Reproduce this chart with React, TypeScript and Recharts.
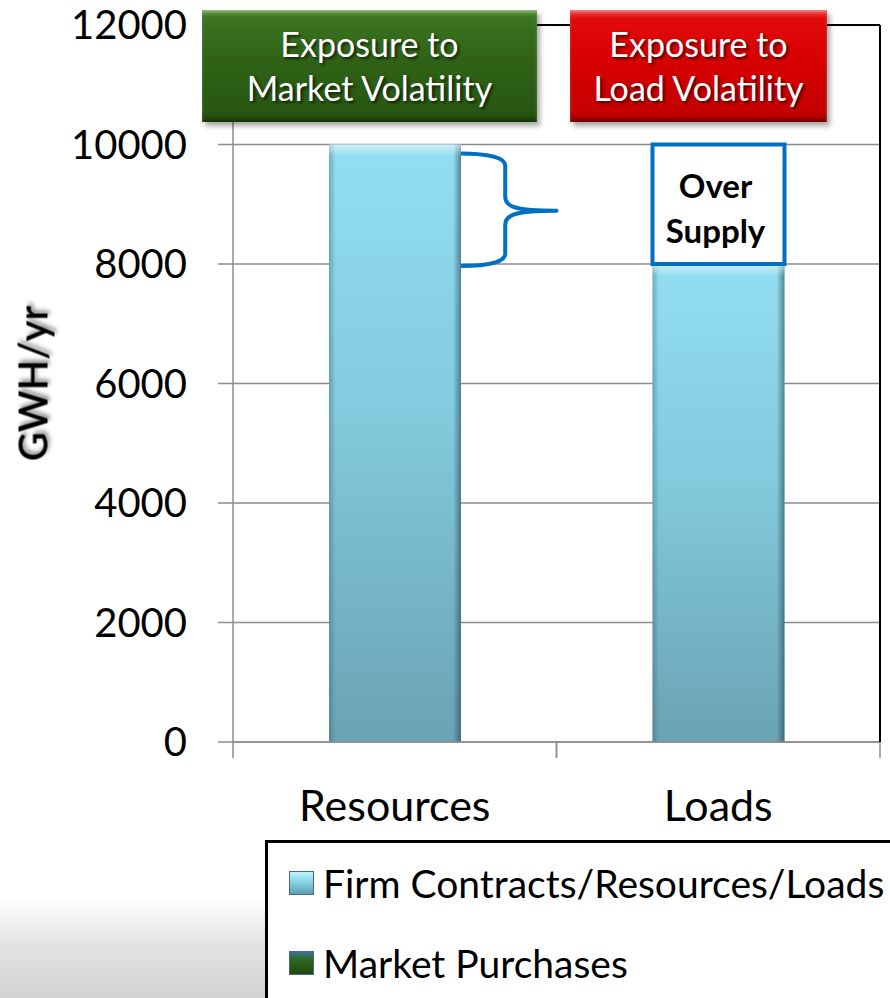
import React from "react";
import {
  BarChart,
  Bar,
  XAxis,
  YAxis,
  CartesianGrid,
  Legend,
  LabelList,
  ReferenceArea,
  ReferenceLine,
} from "recharts";

const categories = ["Resources", "Loads"];
const firmValues = [10000, 8000];
const marketValues = [0, 0];
const overSupplyValues = [0, 2000];
const yTicks = [0, 2000, 4000, 6000, 8000, 10000, 12000];
const marketBoxLines = ["Exposure to", "Market Volatility"];
const loadBoxLines = ["Exposure to", "Load Volatility"];

const data = categories.map((name, i) => ({
  name,
  firm: firmValues[i],
  market: marketValues[i],
  over: overSupplyValues[i],
}));

const FONT = 'Lato, "Open Sans", sans-serif';
const BAR_SIZE = 132;
const BLUE = "#0070c0";

function FirmBar(props: any) {
  const { x, y, width, height } = props;
  if (!height || height <= 0) return null;
  return (
    <g>
      <rect x={x} y={y} width={width} height={height} fill="url(#firmFill)" />
      <rect x={x} y={y} width={width} height={height} fill="url(#firmEdge)" />
      <rect x={x} y={y} width={width} height={Math.min(12, height)} fill="url(#firmTop)" />
    </g>
  );
}

function MarketBar(props: any) {
  const { x, y, width, height } = props;
  if (!height || height <= 0) return null;
  return <rect x={x} y={y} width={width} height={height} fill="#2f5f1a" />;
}

function OverLabel(props: any) {
  const { x, y, width, height, value } = props;
  if (!value) return null;
  const cx = x + width / 2;
  const cy = y + height / 2;
  return (
    <text
      textAnchor="middle"
      dominantBaseline="central"
      fontFamily={FONT}
      fontWeight={700}
      fontSize={33}
      fill="#000"
    >
      <tspan x={cx - 3} y={cy - 19}>Over</tspan>
      <tspan x={cx - 3} y={cy + 26}>Supply</tspan>
    </text>
  );
}

function CategoryTick(props: any) {
  const { x, y, payload, width, visibleTicksCount } = props;
  const half = width / visibleTicksCount / 2;
  return (
    <g>
      <line x1={x - half} x2={x - half} y1={y} y2={y + 16} stroke="#8c8c8c" strokeWidth={1.5} />
      <line x1={x + half} x2={x + half} y1={y} y2={y + 16} stroke="#8c8c8c" strokeWidth={1.5} />
      <text
        x={x}
        y={y + 62}
        textAnchor="middle"
        dominantBaseline="central"
        fontFamily={FONT}
        fontSize={43}
        fill="#000"
      >
        {payload.value}
      </text>
    </g>
  );
}

function Brace(props: any) {
  const { x, y, width, height } = props;
  const left = x + width / 2 + BAR_SIZE / 2 - 1;
  const tip = x + width;
  const spine = left + (tip - left) * 0.47;
  const top = y + 9;
  const bottom = y + height + 2;
  const mid = (top + bottom) / 2 + 1;
  const d = [
    `M ${left} ${top}`,
    `C ${left + 20} ${top} ${spine} ${top + 2} ${spine} ${top + 12}`,
    `L ${spine} ${mid - 14}`,
    `C ${spine} ${mid - 4} ${spine + 10} ${mid} ${tip} ${mid}`,
    `M ${tip} ${mid}`,
    `C ${spine + 10} ${mid} ${spine} ${mid + 4} ${spine} ${mid + 14}`,
    `L ${spine} ${bottom - 12}`,
    `C ${spine} ${bottom - 2} ${left + 20} ${bottom} ${left} ${bottom}`,
  ].join(" ");
  return <path d={d} fill="none" stroke={BLUE} strokeWidth={4} strokeLinecap="round" />;
}

const swatchBg: Record<string, string> = {
  firm: "linear-gradient(to bottom, #c4f1fb 0%, #8fdcef 35%, #5e9fb2 100%)",
  market: "linear-gradient(to bottom, #3d6fa0 0%, #2f6a24 30%, #1f4a10 100%)",
};

function LegendContent(props: any) {
  const items = (props.payload || []).filter((p: any) => p.type !== "none");
  return (
    <div>
      {items.map((item: any) => (
        <div key={item.value} style={{ display: "flex", alignItems: "center", height: 80 }}>
          <span
            style={{
              display: "inline-block",
              width: 25,
              height: 24,
              marginLeft: 21,
              marginRight: 9,
              background: swatchBg[item.dataKey],
              border: "1px solid #4a6a74",
              boxSizing: "border-box",
            }}
          />
          <span style={{ fontFamily: FONT, fontSize: 39, color: "#000", whiteSpace: "nowrap" }}>
            {item.value}
          </span>
        </div>
      ))}
    </div>
  );
}

function ExposureBox({ lines, left, width, bg }: { lines: string[]; left: number; width: number; bg: string }) {
  return (
    <div
      style={{
        position: "absolute",
        left,
        top: 10,
        width,
        height: 112,
        background: bg,
        boxShadow: "3px 4px 5px rgba(0,0,0,0.35), inset 0 2px 3px rgba(255,255,255,0.35), inset 0 -3px 3px rgba(0,0,0,0.25)",
        color: "#fff",
        fontFamily: FONT,
        fontSize: 34,
        lineHeight: "44px",
        textAlign: "center",
        textShadow: "2px 2px 3px rgba(0,0,0,0.65)",
        display: "flex",
        flexDirection: "column",
        justifyContent: "center",
        zIndex: 5,
      }}
    >
      {lines.map((l) => (
        <div key={l}>{l}</div>
      ))}
    </div>
  );
}

export default function App() {
  return (
    <div
      style={{
        position: "absolute",
        left: 0,
        top: 0,
        width: 890,
        height: 998,
        overflow: "hidden",
        background: "#fff",
        fontFamily: FONT,
      }}
    >
      <div
        style={{
          position: "absolute",
          left: 0,
          top: 898,
          width: 270,
          height: 100,
          background: "linear-gradient(to bottom, #ffffff 0%, #e4e4e4 45%, #d2d2d2 100%)",
        }}
      />
      <BarChart
        width={890}
        height={998}
        data={data}
        margin={{ top: 25, right: 0, bottom: 176, left: 0 }}
        barSize={BAR_SIZE}
        style={{ position: "absolute", left: 0, top: 0 }}
      >
        <defs>
          <linearGradient id="firmFill" x1="0" y1="0" x2="0" y2="1">
            <stop offset="0%" stopColor="#93def2" />
            <stop offset="45%" stopColor="#82cadd" />
            <stop offset="100%" stopColor="#6aa3b3" />
          </linearGradient>
          <linearGradient id="firmEdge" x1="0" y1="0" x2="1" y2="0">
            <stop offset="0%" stopColor="#28505a" stopOpacity={0.35} />
            <stop offset="5%" stopColor="#28505a" stopOpacity={0} />
            <stop offset="94%" stopColor="#1e3c46" stopOpacity={0} />
            <stop offset="100%" stopColor="#1e3c46" stopOpacity={0.55} />
          </linearGradient>
          <linearGradient id="firmTop" x1="0" y1="0" x2="0" y2="1">
            <stop offset="0%" stopColor="#ffffff" stopOpacity={0.55} />
            <stop offset="100%" stopColor="#ffffff" stopOpacity={0} />
          </linearGradient>
        </defs>
        <CartesianGrid vertical={false} stroke="#8c8c8c" strokeWidth={1.5} />
        <XAxis
          dataKey="name"
          height={80}
          axisLine={{ stroke: "#8c8c8c", strokeWidth: 1.5 }}
          tickLine={false}
          tickSize={0}
          tickMargin={0}
          tick={<CategoryTick />}
        />
        <YAxis
          width={233}
          domain={[0, 12000]}
          ticks={yTicks}
          interval={0}
          allowDataOverflow
          axisLine={{ stroke: "#8c8c8c", strokeWidth: 1.5 }}
          tickLine={{ stroke: "#8c8c8c", strokeWidth: 1.5 }}
          tickSize={15}
          tickMargin={31}
          tick={{ fontSize: 40, fill: "#000", fontFamily: FONT }}
          label={{
            value: "GWH/yr",
            angle: -90,
            position: "insideLeft",
            offset: 33,
            style: {
              textAnchor: "middle",
              fontSize: 40,
              fontWeight: 600,
              fill: "#000",
              fontFamily: FONT,
              filter: "drop-shadow(3px 2px 2px rgba(0,0,0,0.45))",
            },
          }}
        />
        <YAxis
          yAxisId="frame"
          orientation="right"
          width={10}
          domain={[0, 12000]}
          tick={false}
          tickLine={false}
          axisLine={{ stroke: "#000", strokeWidth: 2 }}
        />
        <ReferenceLine y={12000} stroke="#000" strokeWidth={2} />
        <Bar
          dataKey="firm"
          name="Firm Contracts/Resources/Loads"
          stackId="s"
          fill="#86d2e6"
          shape={<FirmBar />}
          isAnimationActive={false}
        />
        <Bar
          dataKey="market"
          name="Market Purchases"
          stackId="s"
          fill="#2f5f1a"
          shape={<MarketBar />}
          isAnimationActive={false}
        />
        <Bar
          dataKey="over"
          name="Over Supply"
          stackId="s"
          fill="#ffffff"
          stroke={BLUE}
          strokeWidth={4}
          legendType="none"
          isAnimationActive={false}
        >
          <LabelList dataKey="over" content={<OverLabel />} />
        </Bar>
        <ReferenceArea
          x1="Resources"
          x2="Resources"
          y1={8000}
          y2={10000}
          fill="none"
          shape={<Brace />}
        />
        <Legend
          layout="horizontal"
          verticalAlign="middle"
          align="center"
          content={<LegendContent />}
          wrapperStyle={{
            left: 265,
            top: 840,
            width: 640,
            height: 170,
            border: "3px solid #000",
            boxSizing: "border-box",
            background: "#fff",
          }}
        />
      </BarChart>
      <ExposureBox
        lines={marketBoxLines}
        left={202}
        width={335}
        bg="linear-gradient(to bottom, #5f9a3c 0%, #3b7420 7%, #2f6216 45%, #285812 90%, #1d4509 100%)"
      />
      <ExposureBox
        lines={loadBoxLines}
        left={570}
        width={257}
        bg="linear-gradient(to bottom, #f04848 0%, #e20a0a 8%, #d60000 50%, #c40000 92%, #980000 100%)"
      />
    </div>
  );
}
